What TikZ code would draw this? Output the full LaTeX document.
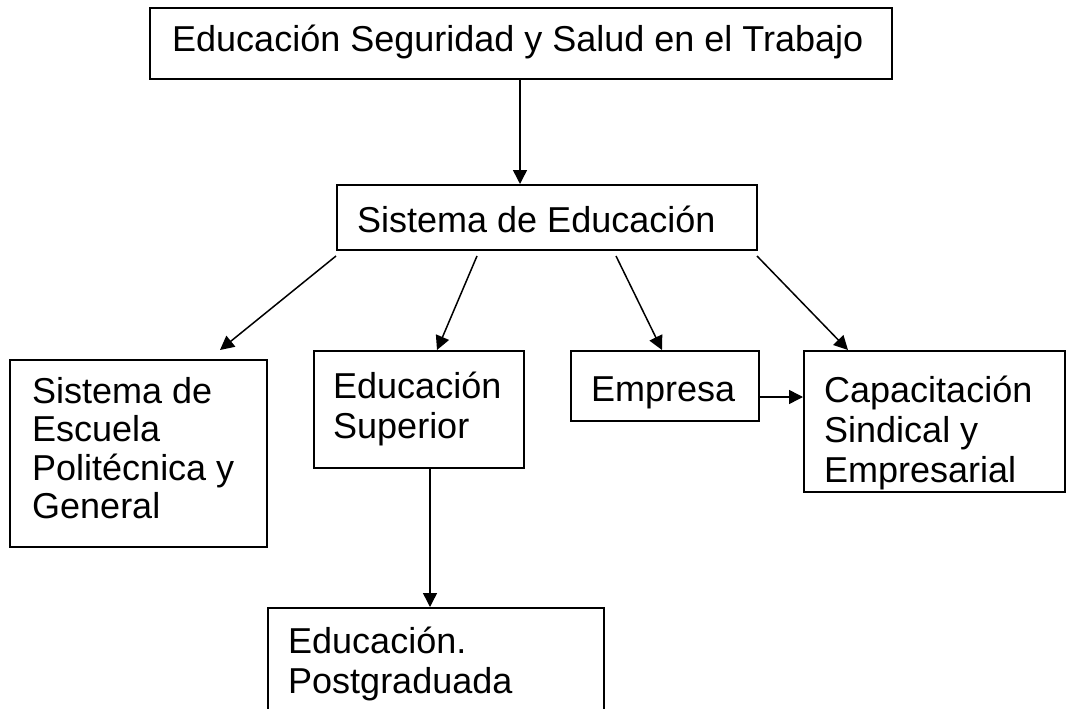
\documentclass[tikz,border=0pt]{standalone}
\usepackage{fontspec}
\setmainfont{Liberation Sans}
\usetikzlibrary{arrows.meta}
\begin{document}
\begin{tikzpicture}[x=1pt,y=-1pt,
  box/.style={draw=black, line width=1.8pt, anchor=north west, inner sep=0pt},
  txt/.style={anchor=base west, inner sep=0pt, font=\fontsize{36}{40}\selectfont},
  arr/.style={line width=1.5pt, -{Triangle[length=14pt,width=14pt]}}]
\useasboundingbox (0,0) rectangle (1074,709);
\fill[white] (0,0) rectangle (1074,709);
\clip (0,0) rectangle (1074,709);
% boxes
\node[box, minimum width=742pt, minimum height=71pt] (T) at (149,7) {};
\node[box, minimum width=420pt, minimum height=65pt] (S) at (336,184) {};
\node[box, minimum width=257pt, minimum height=187pt] (L) at (9,359) {};
\node[box, minimum width=210pt, minimum height=117pt] (U) at (313,350) {};
\node[box, minimum width=188pt, minimum height=70pt] (E) at (570,350) {};
\node[box, minimum width=261pt, minimum height=141pt] (C) at (803,350) {};
\node[box, minimum width=336pt, minimum height=130pt] (P) at (267,607) {};
% texts
\node[txt] (tT) at (172,52) {Educación Seguridad y Salud en el Trabajo};
\node[txt] (tS) at (357,232) {Sistema de Educación};
\node[txt] (tL) at (32,403) {\fontsize{36}{38.5}\selectfont\begin{tabular}[t]{@{}l@{}}Sistema de\\Escuela\\Politécnica y\\General\end{tabular}};
\node[txt] (tU) at (333,398) {\begin{tabular}[t]{@{}l@{}}Educación\\Superior\end{tabular}};
\node[txt] (tE) at (591,401) {Empresa};
\node[txt] (tC) at (824,402) {\begin{tabular}[t]{@{}l@{}}Capacitación\\Sindical y\\Empresarial\end{tabular}};
\node[txt] (tP) at (288,653) {\begin{tabular}[t]{@{}l@{}}Educación.\\Postgraduada\end{tabular}};
% connector end points
\coordinate (xts) at (520,0);
\coordinate (s1) at (336,256);
\coordinate (s2) at (477,256);
\coordinate (s3) at (616,256);
\coordinate (s4) at (757,256);
\coordinate (e1) at (220,350);
\coordinate (e2) at (437,350);
\coordinate (e3) at (662,350);
\coordinate (e4) at (848,350);
\coordinate (xup) at (430,0);
\coordinate (yec) at (0,397);
% connectors
\draw[arr] (T.south -| xts) -- (S.north -| xts);
\draw[arr] (s1) -- (e1);
\draw[arr] (s2) -- (e2);
\draw[arr] (s3) -- (e3);
\draw[arr] (s4) -- (e4);
\draw[arr] (E.east |- yec) -- (C.west |- yec);
\draw[arr] (U.south -| xup) -- (P.north -| xup);
\end{tikzpicture}
\end{document}
